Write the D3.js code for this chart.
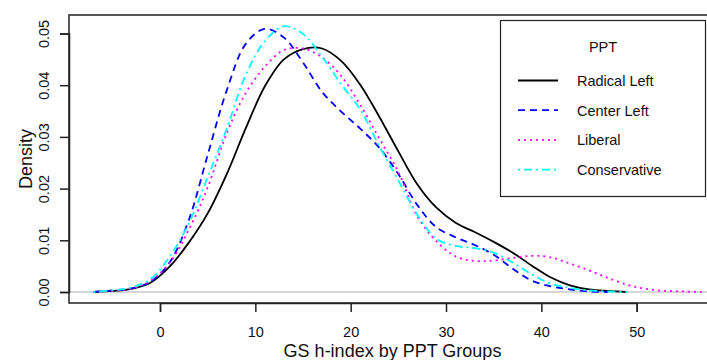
<!DOCTYPE html>
<html>
<head>
<meta charset="utf-8">
<script src="https://cdnjs.cloudflare.com/ajax/libs/d3/7.8.5/d3.min.js"></script>
<style>
    body { margin: 0; background: #fff; }
    svg { display: block; font-family: "Liberation Sans", Arial, sans-serif; }
</style>
</head>
<body>
<script>
// density estimates, on a grid of h-index values
var hIndex = [-7, -5, -3, -1, 1, 3, 5, 7, 9, 11, 13, 15, 17, 19, 21, 23, 25, 27, 29,
    31, 33, 35, 37, 39, 41, 43, 45, 47, 49, 51, 53, 55, 57];

var radicalLeft = [0.0000, 0.0002, 0.0006, 0.0018, 0.0049, 0.0095, 0.0152, 0.0228, 0.0317,
    0.0398, 0.0450, 0.0470, 0.0471, 0.0447, 0.0401, 0.0339, 0.0272, 0.0208, 0.0163,
    0.0134, 0.0116, 0.0097, 0.0076, 0.0051, 0.0028, 0.0013, 0.0005, 0.0002, 0.0000,
    null, null, null, null];

var centerLeft = [0.0000, 0.0003, 0.0007, 0.0020, 0.0057, 0.0138, 0.0265, 0.0390, 0.0480,
    0.0509, 0.0492, 0.0444, 0.0387, 0.0349, 0.0316, 0.0279, 0.0228, 0.0168, 0.0125,
    0.0106, 0.0091, 0.0072, 0.0045, 0.0022, 0.0011, 0.0005, 0.0001, 0.0000, null,
    null, null, null, null];

var liberal = [0.0000, 0.0002, 0.0007, 0.0022, 0.0056, 0.0120, 0.0202, 0.0307, 0.0385,
    0.0436, 0.0468, 0.0471, 0.0454, 0.0418, 0.0362, 0.0297, 0.0232, 0.0146, 0.0098,
    0.0069, 0.0060, 0.0061, 0.0066, 0.0070, 0.0067, 0.0055, 0.0042, 0.0027, 0.0014,
    0.0006, 0.0002, 0.0001, 0.0000];

var conservative = [0.0000, 0.0003, 0.0009, 0.0025, 0.0068, 0.0132, 0.0222, 0.0316, 0.0420,
    0.0485, 0.0514, 0.0499, 0.0455, 0.0402, 0.0353, 0.0282, 0.0216, 0.0149, 0.0103,
    0.0089, 0.0085, 0.0076, 0.0057, 0.0034, 0.0016, 0.0008, 0.0003, 0.0001, 0.0000,
    null, null, null, null];

var groupNames = ["Radical Left", "Center Left", "Liberal", "Conservative"];
var xTicks = [0, 10, 20, 30, 40, 50];
var yTicks = [0, 0.01, 0.02, 0.03, 0.04, 0.05];

var _width = 707, _height = 360,
    _box = {left: 69, top: 15, right: 716, bottom: 303};

var groups = [
    {name: groupNames[0], values: radicalLeft, color: "#000000", dash: null},
    {name: groupNames[1], values: centerLeft, color: "#0000ff", dash: "7,5"},
    {name: groupNames[2], values: liberal, color: "#ff00ff", dash: "2,4"},
    {name: groupNames[3], values: conservative, color: "#00ffff", dash: "2,4,8,4"}
];

var svg = d3.select("body").append("svg")
    .attr("width", _width)
    .attr("height", _height);

var x = d3.scaleLinear().domain([0, 50]).range([160, 636.7]);
var y = d3.scaleLinear().domain([0, 0.05]).range([292, 33.5]);

svg.append("clipPath").attr("id", "plotclip")
    .append("rect")
    .attr("x", _box.left).attr("y", _box.top)
    .attr("width", _box.right - _box.left)
    .attr("height", _box.bottom - _box.top);

// abline(h = 0)
svg.append("line")
    .attr("x1", _box.left).attr("x2", _box.right)
    .attr("y1", y(0)).attr("y2", y(0))
    .attr("stroke", "#c8c8c8")
    .attr("stroke-width", 1.5);

var line = d3.line()
    .defined(function (d) { return d[1] !== null; })
    .x(function (d) { return x(d[0]); })
    .y(function (d) { return y(d[1]); })
    .curve(d3.curveCatmullRom);

svg.append("g")
    .attr("clip-path", "url(#plotclip)")
    .selectAll("path.density")
    .data(groups)
    .enter().append("path")
    .attr("class", "density")
    .attr("fill", "none")
    .attr("stroke", function (d) { return d.color; })
    .attr("stroke-width", 1.8)
    .attr("stroke-dasharray", function (d) { return d.dash; })
    .attr("d", function (d) {
        return line(hIndex.map(function (h, i) { return [h, d.values[i]]; }));
    });

// plot frame
svg.append("rect")
    .attr("x", _box.left).attr("y", _box.top)
    .attr("width", _box.right - _box.left)
    .attr("height", _box.bottom - _box.top)
    .attr("fill", "none")
    .attr("stroke", "#222")
    .attr("stroke-width", 1.5);

var xAxis = svg.append("g")
    .attr("transform", "translate(0," + _box.bottom + ")")
    .call(d3.axisBottom(x).tickValues(xTicks).tickSize(9).tickPadding(15)
        .tickFormat(d3.format("d")));

var yAxis = svg.append("g")
    .attr("transform", "translate(" + _box.left + ",0)")
    .call(d3.axisLeft(y).tickValues(yTicks).tickSize(9)
        .tickFormat(d3.format(".2f")));

[xAxis, yAxis].forEach(function (a) {
    a.select(".domain").attr("stroke", "#222").attr("stroke-width", 1.5);
    a.selectAll(".tick line").attr("stroke", "#222").attr("stroke-width", 1.5);
    a.selectAll(".tick text")
        .attr("fill", "#111")
        .style("font-size", "14.5px")
        .style("font-family", "'Liberation Sans', Arial, sans-serif");
});

yAxis.selectAll(".tick text")
    .attr("x", null).attr("dy", null)
    .attr("text-anchor", "middle")
    .attr("transform", "translate(-20,0) rotate(-90)");

svg.append("text")
    .attr("x", 392.5).attr("y", 357)
    .attr("text-anchor", "middle")
    .attr("fill", "#111")
    .style("font-size", "18px")
    .text("GS h-index by PPT Groups");

svg.append("text")
    .attr("transform", "translate(32,159) rotate(-90)")
    .attr("text-anchor", "middle")
    .attr("fill", "#111")
    .style("font-size", "18px")
    .text("Density");

// legend
var legend = svg.append("g");

legend.append("rect")
    .attr("x", 500.5).attr("y", 20.5)
    .attr("width", 205).attr("height", 176)
    .attr("fill", "#fff")
    .attr("stroke", "#222")
    .attr("stroke-width", 1.2);

legend.append("text")
    .attr("x", 603).attr("y", 51.5)
    .attr("text-anchor", "middle")
    .attr("fill", "#111")
    .style("font-size", "14.5px")
    .text("PPT");

var item = legend.selectAll("g.item")
    .data(groups)
    .enter().append("g")
    .attr("class", "item")
    .attr("transform", function (d, i) {
        return "translate(0," + (86 + i * 29.7) + ")";
    });

item.append("line")
    .attr("x1", 518).attr("x2", 558)
    .attr("y1", -5.5).attr("y2", -5.5)
    .attr("stroke", function (d) { return d.color; })
    .attr("stroke-width", 1.8)
    .attr("stroke-dasharray", function (d) { return d.dash; });

item.append("text")
    .attr("x", 577).attr("y", 0)
    .attr("fill", "#111")
    .style("font-size", "14.5px")
    .text(function (d) { return d.name; });
</script>
</body>
</html>
